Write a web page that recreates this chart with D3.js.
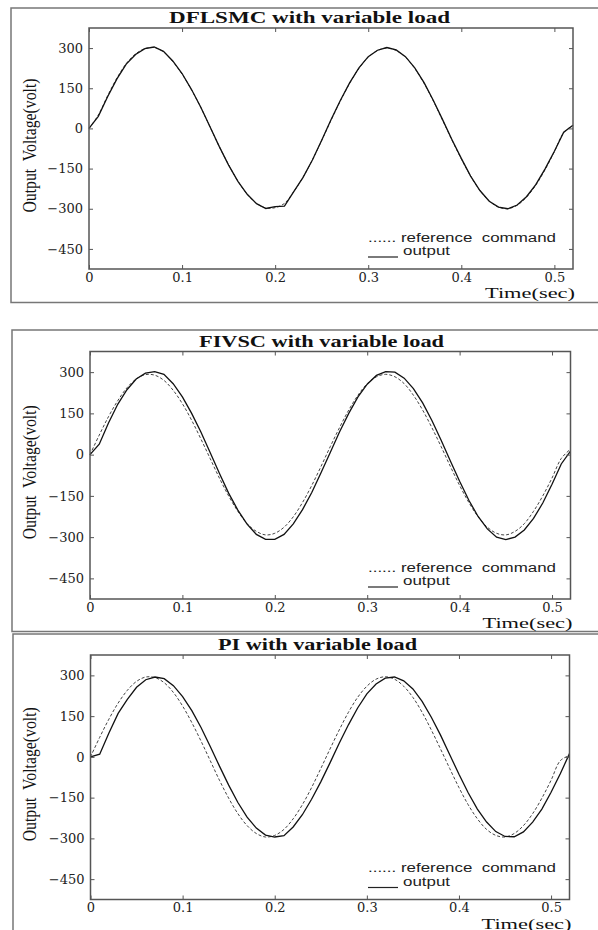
<!DOCTYPE html>
<html>
<head>
<meta charset="utf-8">
<script src="https://cdn.jsdelivr.net/npm/d3@7"></script>
<style>
  body { margin: 0; background: #fff; }
  svg { display: block; }
  text { white-space: pre; }
</style>
</head>
<body>
<div id="chart"></div>
<script>
// sample times (sec)
const time = [0, 0.01, 0.02, 0.03, 0.04, 0.05, 0.06, 0.07, 0.08, 0.09,
  0.10, 0.11, 0.12, 0.13, 0.14, 0.15, 0.16, 0.17, 0.18, 0.19,
  0.20, 0.21, 0.22, 0.23, 0.24, 0.25, 0.26, 0.27, 0.28, 0.29,
  0.30, 0.31, 0.32, 0.33, 0.34, 0.35, 0.36, 0.37, 0.38, 0.39,
  0.40, 0.41, 0.42, 0.43, 0.44, 0.45, 0.46, 0.47, 0.48, 0.49,
  0.50, 0.51, 0.52];

const titles = ["DFLSMC with variable load", "FIVSC with variable load", "PI with variable load"];
const xTicks = [0, 0.1, 0.2, 0.3, 0.4, 0.5];
const xTickLabels = ["0", "0.1", "0.2", "0.3", "0.4", "0.5"];
const yTicks = [300, 150, 0, -150, -300, -450];

// output voltage (volt)
const dflsmcRef = [0, 50, 122, 188, 242, 278, 298, 302, 286, 250,
  203, 145, 79, 6, -68, -136, -197, -246, -280, -297,
  -296, -280, -236, -182, -118, -45, 30, 102, 168, 224,
  266, 291, 300, 291, 266, 224, 168, 102, 30, -44,
  -114, -178, -232, -271, -294, -300, -287, -257, -212, -154,
  -87, -16, 12];
const dflsmcOut = [0, 45, 118, 185, 240, 276, 298, 304, 288, 252,
  205, 146, 80, 6, -68, -137, -198, -246, -281, -299,
  -292, -290, -236, -183, -118, -44, 32, 104, 170, 226,
  268, 292, 302, 293, 268, 226, 171, 104, 32, -42,
  -112, -178, -232, -272, -294, -300, -286, -255, -210, -151,
  -85, -14, 12];

const fivscRef = [0, 71, 138, 196, 243, 275, 291, 289, 270, 234,
  185, 125, 57, -14, -85, -150, -206, -251, -279, -292,
  -286, -264, -226, -174, -112, -43, 29, 98, 162, 216,
  258, 283, 292, 283, 258, 216, 162, 98, 29, -43,
  -112, -174, -226, -264, -286, -292, -279, -251, -206, -150,
  -85, -14, 20];
const fivscOut = [0, 38, 115, 183, 236, 275, 296, 302, 292, 258,
  210, 150, 82, 8, -68, -140, -202, -253, -290, -308,
  -308, -290, -252, -200, -138, -66, 8, 82, 150, 210,
  256, 288, 302, 300, 278, 240, 188, 124, 52, -23,
  -97, -166, -225, -270, -300, -309, -300, -274, -232, -176,
  -108, -34, 13];

const piRef = [0, 72, 139, 198, 245, 278, 294, 292, 273, 237,
  187, 126, 58, -14, -86, -152, -209, -253, -282, -295,
  -289, -267, -228, -176, -113, -43, 29, 99, 164, 219,
  260, 286, 295, 286, 260, 219, 164, 99, 29, -43,
  -113, -176, -228, -267, -289, -295, -282, -253, -209, -152,
  -86, -14, 5];
const piOut = [0, 10, 88, 160, 212, 256, 284, 294, 288, 262,
  222, 170, 108, 38, -34, -104, -168, -222, -262, -288,
  -295, -290, -258, -213, -156, -92, -22, 50, 118, 180,
  232, 268, 290, 294, 280, 250, 204, 146, 80, 8,
  -64, -132, -192, -240, -275, -293, -294, -276, -240, -192,
  -130, -62, 12];

const W = 598, H = 930;
const svg = d3.select("#chart").append("svg")
  .attr("width", W)
  .attr("height", H);

// layout of the three stacked figures
const panels = [
  {title: titles[0], ref: dflsmcRef, out: dflsmcOut,
   frameX: 11, frameY: 8, frameB: 302.5,
   left: 89, right: 573, top: 28, bottom: 269, titleX: 169, titleLen: 281},
  {title: titles[1], ref: fivscRef, out: fivscOut,
   frameX: 12, frameY: 330, frameB: 631.5,
   left: 90, right: 570.5, top: 351.5, bottom: 599, titleX: 199, titleLen: 245},
  {title: titles[2], ref: piRef, out: piOut,
   frameX: 13, frameY: 634, frameB: null,
   left: 90.5, right: 569.5, top: 655, bottom: 899.5, titleX: 218, titleLen: 199}
];

panels.forEach(drawPanel);

function drawPanel(p) {
  const g = svg.append("g");

  const x = d3.scaleLinear().domain([0, 0.52]).range([p.left, p.right]);
  const y = d3.scaleLinear().domain([-525, 375]).range([p.bottom, p.top]);

  // outer figure frame (right edge runs off the page)
  const fb = p.frameB === null ? H + 5 : p.frameB;
  g.append("path")
    .attr("d", `M${W + 5},${p.frameY}H${p.frameX}V${fb}` + (p.frameB === null ? "" : `H${W + 5}`))
    .attr("fill", "none")
    .attr("stroke", "#777")
    .attr("stroke-width", 1.5);

  // title
  g.append("text")
    .attr("x", p.titleX)
    .attr("y", p.top - 5)
    .attr("textLength", p.titleLen)
    .attr("lengthAdjust", "spacingAndGlyphs")
    .style("font-family", "'Liberation Serif', serif")
    .style("font-weight", "bold")
    .style("font-size", "16px")
    .attr("fill", "#111")
    .text(p.title);

  const line = d3.line()
    .x((d, i) => x(time[i]))
    .y(d => y(d));

  g.append("path")
    .attr("d", line.curve(d3.curveCatmullRom)(p.ref))
    .attr("fill", "none")
    .attr("stroke", "#444")
    .attr("stroke-width", 1)
    .attr("stroke-dasharray", "3,2");

  g.append("path")
    .attr("d", line.curve(d3.curveLinear)(p.out))
    .attr("fill", "none")
    .attr("stroke", "#111")
    .attr("stroke-width", 1.3);

  // axes, MATLAB style ticks pointing inward
  const xAxis = g.append("g")
    .attr("transform", `translate(0,${p.bottom})`)
    .call(d3.axisBottom(x).tickValues(xTicks).tickSize(-4)
      .tickFormat((d, i) => xTickLabels[i]));

  g.append("g")
    .attr("transform", `translate(${p.left},0)`)
    .call(d3.axisLeft(y).tickValues(yTicks).tickSize(-4).tickPadding(6));

  g.append("g")
    .attr("transform", `translate(0,${p.top})`)
    .call(d3.axisTop(x).tickValues(xTicks).tickSize(-4).tickFormat(""));

  g.append("g")
    .attr("transform", `translate(${p.right},0)`)
    .call(d3.axisRight(y).tickValues(yTicks).tickSize(-4).tickFormat(""));

  g.selectAll(".domain").remove();
  g.selectAll(".tick line").attr("stroke", "#555");
  g.selectAll(".tick text")
    .style("font-family", "'DejaVu Serif', serif")
    .style("font-size", "13px")
    .attr("fill", "#222");
  xAxis.selectAll("text").attr("y", 12.5).attr("dy", null);

  g.append("rect")
    .attr("x", p.left)
    .attr("y", p.top)
    .attr("width", p.right - p.left)
    .attr("height", p.bottom - p.top)
    .attr("fill", "none")
    .attr("stroke", "#555")
    .attr("stroke-width", 1.5);

  // axis labels
  g.append("text")
    .attr("transform", `translate(36,${(p.top + p.bottom) / 2 - 3}) rotate(-90)`)
    .attr("text-anchor", "middle")
    .attr("textLength", 134)
    .attr("lengthAdjust", "spacingAndGlyphs")
    .style("font-family", "'Liberation Serif', serif")
    .style("font-size", "19px")
    .attr("fill", "#111")
    .text("Output  Voltage(volt)");

  g.append("text")
    .attr("x", p.right + 2 - 90)
    .attr("y", p.bottom + 29)
    .attr("textLength", 90)
    .attr("lengthAdjust", "spacingAndGlyphs")
    .style("font-family", "'Liberation Serif', serif")
    .style("font-size", "15px")
    .attr("fill", "#111")
    .text("Time(sec)");

  // legend
  const lx = 368;
  g.append("text")
    .attr("x", lx)
    .attr("y", p.bottom - 27.5)
    .attr("textLength", 188)
    .attr("lengthAdjust", "spacingAndGlyphs")
    .style("font-family", "'Liberation Sans', sans-serif")
    .style("font-size", "12px")
    .attr("fill", "#222")
    .text("...... reference  command");

  g.append("line")
    .attr("x1", lx)
    .attr("x2", lx + 30)
    .attr("y1", p.bottom - 12)
    .attr("y2", p.bottom - 12)
    .attr("stroke", "#222")
    .attr("stroke-width", 1.2);

  g.append("text")
    .attr("x", lx + 35)
    .attr("y", p.bottom - 14)
    .attr("textLength", 47)
    .attr("lengthAdjust", "spacingAndGlyphs")
    .style("font-family", "'Liberation Sans', sans-serif")
    .style("font-size", "12px")
    .attr("fill", "#222")
    .text("output");
}
</script>
</body>
</html>
